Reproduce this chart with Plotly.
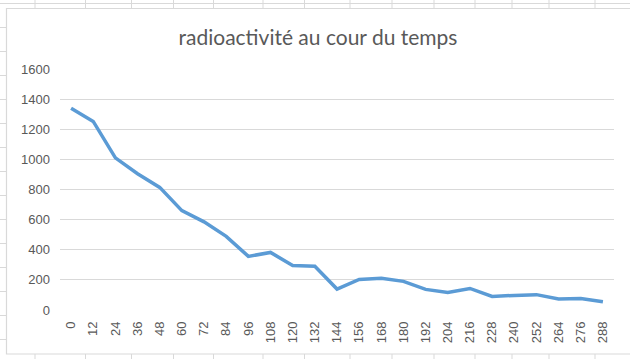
import plotly.graph_objects as go

# Data
times = [0, 12, 24, 36, 48, 60, 72, 84, 96, 108, 120, 132, 144, 156, 168, 180,
         192, 204, 216, 228, 240, 252, 264, 276, 288]
activity = [1340, 1252, 1010, 905, 814, 660, 585, 489, 356, 382, 296, 290, 139,
            203, 210, 190, 137, 117, 143, 90, 97, 102, 73, 77, 55]
title_text = "radioactivité au cour du temps"
y_ticks = [0, 200, 400, 600, 800, 1000, 1200, 1400, 1600]

W, H = 630, 359
L, R, T, B = 60, 16, 69, 49
pw, ph = W - L - R, H - T - B

def px(x):
    return (x - L) / pw

def py(y):
    return (H - B - y) / ph

fig = go.Figure()
fig.add_trace(go.Scatter(
    x=[str(t) for t in times], y=activity, mode="lines",
    line=dict(color="#5b9bd5", width=3.5), hoverinfo="skip", showlegend=False))

# spreadsheet background grid (decoration)
grid_col = "#d9d9d9"
col_lines = [35, 85.5, 131.5, 173.5, 213.5, 263, 304.5, 350, 392, 434, 475, 512, 549, 595]
row_lines = [3.5, 27.5, 51.5, 75.5, 99.5, 123.5, 147.5, 171.5, 195.5, 219.5, 243.5,
             267.5, 291.5, 315.5, 339.5]
shapes = []
for cx in col_lines:
    for (y0, y1) in [(0, 8.5), (354, H)]:
        shapes.append(dict(type="line", xref="paper", yref="paper",
                           x0=px(cx), x1=px(cx), y0=py(y0), y1=py(y1),
                           line=dict(color=grid_col, width=1), layer="below"))
shapes.append(dict(type="line", xref="paper", yref="paper", x0=px(0), x1=px(W),
                   y0=py(3.5), y1=py(3.5), line=dict(color=grid_col, width=1), layer="below"))
for ry in row_lines:
    shapes.append(dict(type="line", xref="paper", yref="paper", x0=px(0), x1=px(6.5),
                       y0=py(ry), y1=py(ry), line=dict(color=grid_col, width=1), layer="below"))
# chart box border
shapes.append(dict(type="rect", xref="paper", yref="paper", x0=px(6.5), x1=px(W + 5),
                   y0=py(354), y1=py(8.5), line=dict(color=grid_col, width=1.2),
                   fillcolor="rgba(0,0,0,0)", layer="below"))

fig.update_layout(
    width=W, height=H,
    margin=dict(l=L, r=R, t=T, b=B, pad=0, autoexpand=False),
    paper_bgcolor="white", plot_bgcolor="white",
    title=dict(text=title_text, x=318 / W, xref="container", xanchor="center",
               y=1 - 38 / H, yref="container", yanchor="middle",
               font=dict(family="Lato, Open Sans, sans-serif", size=21, color="#595959"),
               automargin=False),
    shapes=shapes,
    xaxis=dict(type="category", range=[-0.5, len(times) - 0.5], tickangle=-90,
               showgrid=False, zeroline=False,
               showline=False, ticks="", ticklabelstandoff=8, automargin=False,
               tickfont=dict(family="Liberation Sans, Arial", size=13, color="#595959"),
               fixedrange=True),
    yaxis=dict(range=[0, 1600], tickvals=y_ticks, showgrid=True, gridcolor=grid_col,
               gridwidth=1, zeroline=False, showline=False, ticks="",
               ticklabelstandoff=9, automargin=False,
               tickfont=dict(family="Liberation Sans, Arial", size=13, color="#595959"),
               fixedrange=True),
)

fig.write_html("out.html", config={"displayModeBar": False},
               post_script="document.body.style.margin='0';document.body.style.overflow='hidden';")
